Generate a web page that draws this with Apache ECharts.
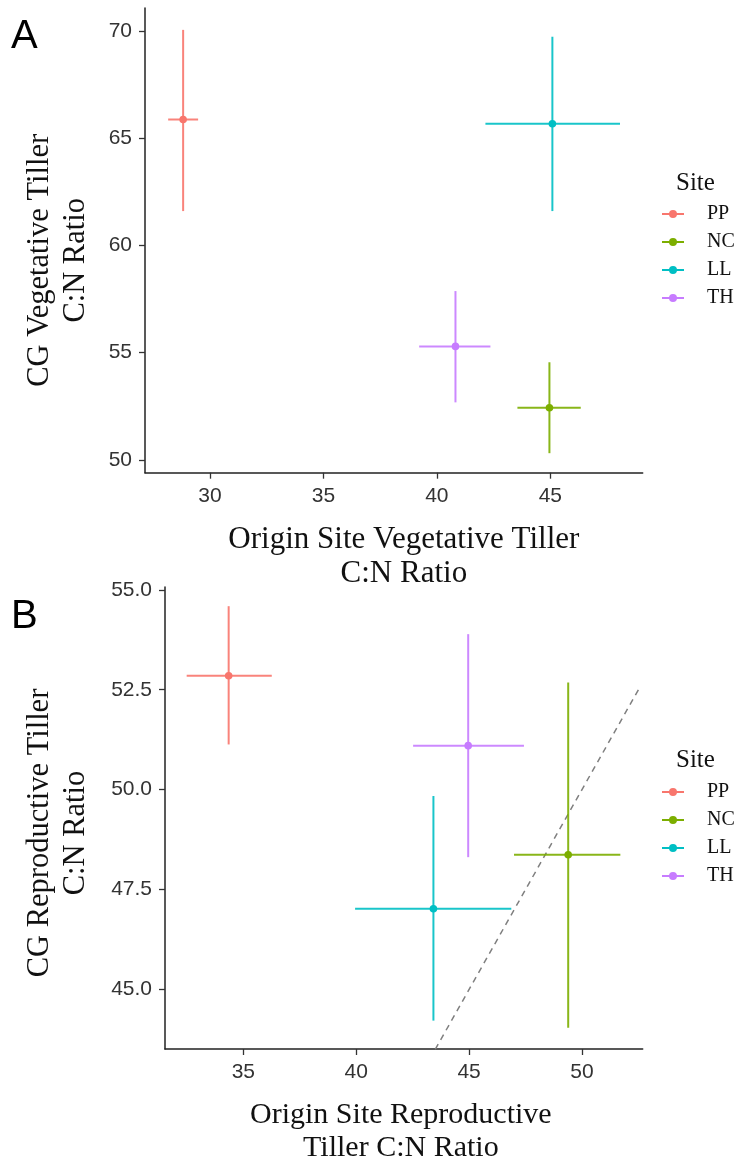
<!DOCTYPE html>
<html>
<head>
<meta charset="utf-8">
<script src="https://cdn.jsdelivr.net/npm/echarts@6/dist/echarts.min.js"></script>
<style>html,body{margin:0;padding:0;background:#fff}#c{width:741px;height:1166px}</style>
</head>
<body>
<div id="c"></div>
<script>
// ---- data ----
const sites = ['PP', 'NC', 'LL', 'TH'];
const siteColors = ['#F8766D', '#7CAE00', '#00BFC4', '#C77CFF'];

// Panel A: vegetative tillers
const vegX    = [28.82, 44.96, 45.09, 40.82];
const vegXlo  = [28.16, 43.55, 42.14, 39.22];
const vegXhi  = [29.48, 46.34, 48.07, 42.36];
const vegY    = [65.87, 52.43, 65.67, 55.29];
const vegYlo  = [61.60, 50.31, 61.60, 52.68];
const vegYhi  = [70.05, 54.55, 69.73, 57.87];

// Panel B: reproductive tillers
const repX    = [34.35, 49.39, 43.42, 44.96];
const repXlo  = [32.49, 46.99, 39.95, 42.52];
const repXhi  = [36.26, 51.70, 46.87, 47.43];
const repY    = [52.85, 48.37, 47.02, 51.10];
const repYlo  = [51.13, 44.04, 44.22, 48.31];
const repYhi  = [54.59, 52.68, 49.84, 53.89];

// 1:1 reference line (panel B)
const oneToOne = [43.5, 52.6];

// tick labels
const vegXTicks = [30, 35, 40, 45];
const vegYTicks = [50, 55, 60, 65, 70];
const repXTicks = [35, 40, 45, 50];
const repYTicks = [45, 47.5, 50, 52.5, 55];

// ---- chart ----
const chart = echarts.init(document.getElementById('c'), null, {renderer: 'canvas'});
const serif = 'Liberation Serif';
const sans = 'Liberation Sans';

function axisCommon(ticks, fmt) {
  return {
    axisLine: {show: true, lineStyle: {color: '#222', width: 1.5}},
    axisTick: {show: true, length: 6, lineStyle: {color: '#333', width: 1.3}, customValues: ticks},
    axisLabel: {customValues: ticks, color: '#333', fontFamily: sans, fontSize: 21, margin: 13,
      formatter: fmt || (v => String(v))},
    splitLine: {show: false}
  };
}

function renderErr(params, api) {
  const color = api.visual('color');
  const x = api.value(0), y = api.value(1);
  const l = api.coord([api.value(2), y]);
  const r = api.coord([api.value(3), y]);
  const b = api.coord([x, api.value(4)]);
  const t = api.coord([x, api.value(5)]);
  const c = api.coord([x, y]);
  return {type: 'group', children: [
    {type: 'line', shape: {x1: l[0], y1: l[1], x2: r[0], y2: r[1]}, style: {stroke: color, lineWidth: 2, opacity: 0.9}},
    {type: 'line', shape: {x1: t[0], y1: t[1], x2: b[0], y2: b[1]}, style: {stroke: color, lineWidth: 2, opacity: 0.9}},
    {type: 'circle', shape: {cx: c[0], cy: c[1], r: 3.8}, style: {fill: color}}
  ]};
}

const series = [];
function addPanel(idx, X, Y, XL, XH, YL, YH) {
  sites.forEach((s, i) => {
    series.push({
      type: 'custom', name: s, xAxisIndex: idx, yAxisIndex: idx,
      itemStyle: {color: siteColors[i]},
      encode: {x: [0, 2, 3], y: [1, 4, 5]},
      renderItem: renderErr,
      data: [[X[i], Y[i], XL[i], XH[i], YL[i], YH[i]]],
      silent: true
    });
  });
}
addPanel(0, vegX, vegY, vegXlo, vegXhi, vegYlo, vegYhi);
addPanel(1, repX, repY, repXlo, repXhi, repYlo, repYhi);
series.push({
  type: 'line', xAxisIndex: 1, yAxisIndex: 1, silent: true, symbol: 'none',
  lineStyle: {color: '#7f7f7f', width: 1.5, type: [6, 5]},
  data: [[oneToOne[0], oneToOne[0]], [oneToOne[1], oneToOne[1]]], z: 1
});

const legendIcon = 'path://M0,4h7.5v2h-7.5z M14.5,4h7.5v2h-7.5z M7,5a4,4 0 1 1 8,0a4,4 0 1 1 -8,0z';
function legend(top) {
  return {
    orient: 'vertical', left: 662, top: top, itemWidth: 22, itemHeight: 10, padding: 0,
    itemGap: 8, selectedMode: false,
    textStyle: {fontFamily: serif, fontSize: 20, color: '#111', padding: [0, 0, 0, 18]},
    data: sites.map((s, i) => ({name: s, icon: legendIcon, itemStyle: {color: siteColors[i]}}))
  };
}

const yName = {fontFamily: serif, fontSize: 30.5, color: '#111', lineHeight: 36};

chart.setOption({
  animation: false,
  backgroundColor: '#fff',
  title: [
    {text: 'A', left: 6, top: 12, textStyle: {fontFamily: sans, fontSize: 40, fontWeight: 'normal', color: '#000'}},
    {text: 'B', left: 6, top: 592, textStyle: {fontFamily: sans, fontSize: 40, fontWeight: 'normal', color: '#000'}},
    {text: 'Site', left: 676, top: 171, padding: 0, textStyle: {fontFamily: serif, fontSize: 25, fontWeight: 'normal', color: '#111'}},
    {text: 'Site', left: 676, top: 748, padding: 0, textStyle: {fontFamily: serif, fontSize: 25, fontWeight: 'normal', color: '#111'}}
  ],
  legend: [legend(204), legend(782)],
  grid: [
    {left: 145, top: 8, width: 497.7, height: 464.7},
    {left: 165, top: 587, width: 477.7, height: 463.7}
  ],
  xAxis: [
    Object.assign({type: 'value', gridIndex: 0, min: 27.14, max: 49.07,
      name: 'Origin Site Vegetative Tiller\nC:N Ratio', nameLocation: 'middle', nameGap: 50,
      nameTextStyle: {fontFamily: serif, fontSize: 31, color: '#111', lineHeight: 34, padding: [0, 0, 0, 20]}}, axisCommon(vegXTicks)),
    Object.assign({type: 'value', gridIndex: 1, min: 31.53, max: 52.69,
      name: 'Origin Site Reproductive\nTiller C:N Ratio', nameLocation: 'middle', nameGap: 50,
      nameTextStyle: {fontFamily: serif, fontSize: 30, color: '#111', lineHeight: 33, padding: [0, 6, 0, 0]}}, axisCommon(repXTicks))
  ],
  yAxis: [
    Object.assign({type: 'value', gridIndex: 0, min: 49.4, max: 71.07,
      name: 'CG Vegetative Tiller\nC:N Ratio', nameLocation: 'middle', nameGap: 51,
      nameTextStyle: Object.assign({padding: [0, 40, 0, 0]}, yName)}, axisCommon(vegYTicks)),
    Object.assign({type: 'value', gridIndex: 1, min: 43.51, max: 55.07,
      name: 'CG Reproductive Tiller\nC:N Ratio', nameLocation: 'middle', nameGap: 71,
      nameTextStyle: Object.assign({padding: [0, 30, 0, 0]}, yName)}, axisCommon(repYTicks, v => v.toFixed(1)))
  ],
  series: series
});
</script>
</body>
</html>
